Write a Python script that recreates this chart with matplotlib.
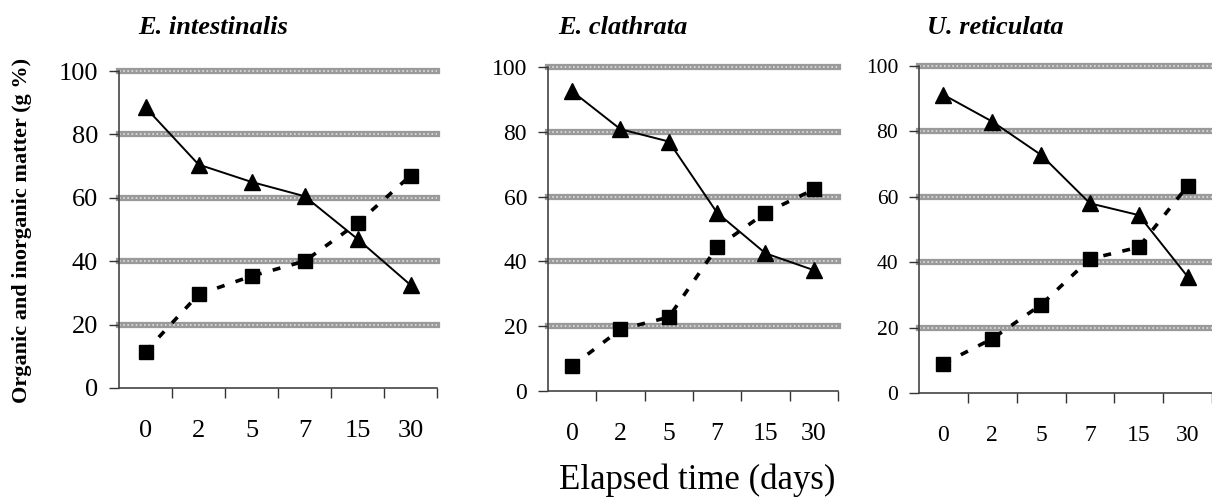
import matplotlib.pyplot as plt

plt.rcParams['font.family'] = ['Liberation Serif', 'DejaVu Serif']

days = ['0', '2', '5', '7', '15', '30']

titles = ['E. intestinalis', 'E. clathrata', 'U. reticulata']

# triangles (solid line) and squares (dashed line), g %
organic = [
    [88.5, 70.5, 65.0, 60.5, 47.0, 32.5],
    [92.5, 80.8, 77.0, 55.0, 42.5, 37.3],
    [91.2, 83.0, 72.8, 58.0, 54.4, 35.6],
]
inorganic = [
    [11.5, 29.5, 35.3, 40.0, 52.0, 67.0],
    [7.7, 19.0, 22.8, 44.4, 55.0, 62.2],
    [9.0, 16.6, 27.0, 41.0, 44.6, 63.3],
]

# axes boxes in figure fractions [left, bottom, width, height]
boxes = [
    [0.0982, 0.224, 0.2624, 0.634],
    [0.4521, 0.218, 0.2393, 0.648],
    [0.7583, 0.214, 0.2417, 0.654],
]
ytick_sizes = [19, 17, 15.5]
xtick_sizes = [19, 18.5, 17]
title_x = [138, 558, 927]  # pixels

fig = plt.figure(figsize=(12.12, 5.0), dpi=100)

for i in range(3):
    ax = fig.add_axes(boxes[i])
    x = list(range(len(days)))
    ax.set_xlim(-0.5, 5.5)
    ax.set_ylim(0, 100)

    # thick hatched-looking grid bands
    for g in [20, 40, 60, 80, 100]:
        ax.axhline(g, color='#9a9a9a', lw=4.5, zorder=1, clip_on=False)
        ax.axhline(g, color='#e0e0e0', lw=1.2, ls=(0, (1, 1.5)), zorder=1.5, clip_on=False)

    ax.plot(x, organic[i], color='black', lw=1.4, marker='^', markersize=12,
            zorder=4, clip_on=False)
    ax.plot(x, inorganic[i], color='black', lw=2.6, ls=(0, (2.2, 3.2)), marker='s',
            markersize=9.5, zorder=3, clip_on=False)

    ax.set_xticks([j - 0.5 for j in range(1, 7)])
    ax.set_xticklabels([])
    ax.set_xticks(x, minor=True)
    ax.set_xticklabels(days, minor=True)
    ax.tick_params(axis='x', which='major', direction='out', length=7, width=1, color='#333333')
    ax.tick_params(axis='x', which='minor', length=0, pad=23, labelsize=xtick_sizes[i])
    ax.set_yticks([0, 20, 40, 60, 80, 100])
    ax.tick_params(axis='y', direction='out', length=7, width=1, color='#333333',
                   pad=8, labelsize=ytick_sizes[i])

    for s in ['top', 'right']:
        ax.spines[s].set_visible(False)
    ax.spines['left'].set_color('#444444')
    ax.spines['bottom'].set_color('#444444')
    ax.spines['left'].set_linewidth(1.2)
    ax.spines['bottom'].set_linewidth(1.2)

    fig.text(title_x[i] / 1212, 1 - 28 / 500, titles[i],
             fontsize=19, fontweight='bold', fontstyle='italic', ha='left', va='center')

fig.text(0.018, 0.54, 'Organic and inorganic matter (g %)', rotation=90,
         fontsize=16, fontweight='bold', ha='center', va='center')
fig.text(0.575, 0.04, 'Elapsed time (days)', fontsize=25, ha='center', va='center')

fig.savefig('out.png', dpi=100)
